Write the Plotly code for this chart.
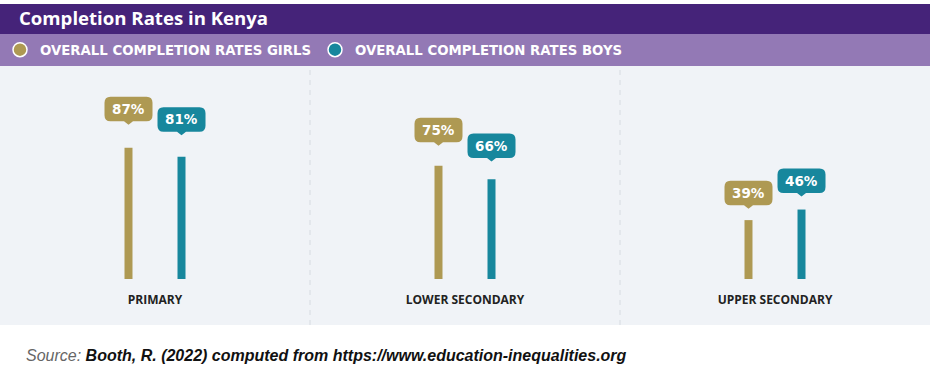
import plotly.graph_objects as go

# ---- data ----
categories = ["PRIMARY", "LOWER SECONDARY", "UPPER SECONDARY"]
girls = [87, 75, 39]
boys = [81, 66, 46]
series_names = ["OVERALL COMPLETION RATES GIRLS", "OVERALL COMPLETION RATES BOYS"]
title_text = "Completion Rates in Kenya"
source_label = "Source:"
source_text = "Booth, R. (2022) computed from https://www.education-inequalities.org"

# ---- style ----
W, H = 934, 375
PLOT_TOP, PLOT_BOT, PLOT_R = 66, 325, 930
GOLD = "#AE9953"
TEAL = "#17879D"
DARK_PURPLE = "#452379"
LIGHT_PURPLE = "#9379B5"
PANEL = "#F0F3F7"
FONT = "Open Sans"
WIDE = "DejaVu Sans"

plot_h = PLOT_BOT - PLOT_TOP
px_per_unit = 1.51
base_px = 279
y_min = -(PLOT_BOT - base_px) / px_per_unit
y_max = (base_px - PLOT_TOP) / px_per_unit
label_k = 1.159          # label bubbles sit on a slightly steeper scale
offset = 0.0855
bar_w = 0.0258


def py(p):
    return (PLOT_BOT - p) / plot_h


def pxp(p):
    return p / PLOT_R


fig = go.Figure()

xs_g = [i - offset for i in range(len(categories))]
xs_b = [i + offset for i in range(len(categories))]

fig.add_trace(go.Bar(x=xs_g, y=girls, width=bar_w, marker=dict(color=GOLD, line=dict(width=0)),
                     showlegend=False, hoverinfo="skip"))
fig.add_trace(go.Bar(x=xs_b, y=boys, width=bar_w, marker=dict(color=TEAL, line=dict(width=0)),
                     showlegend=False, hoverinfo="skip"))

# legend entries (circle markers)
for name, col in zip(series_names, [GOLD, TEAL]):
    fig.add_trace(go.Scatter(x=[None], y=[None], mode="markers", name=name,
                             marker=dict(symbol="circle", size=14, color=col,
                                         line=dict(color="white", width=1.5))))

shapes = []
annotations = []

# header bands
shapes.append(dict(type="rect", xref="paper", yref="paper", x0=0, x1=1, y0=py(34), y1=py(4),
                   fillcolor=DARK_PURPLE, line=dict(width=0), layer="below"))
shapes.append(dict(type="rect", xref="paper", yref="paper", x0=0, x1=1, y0=py(66), y1=py(34),
                   fillcolor=LIGHT_PURPLE, line=dict(width=0), layer="below"))

# separators
for i in range(len(categories) - 1):
    shapes.append(dict(type="line", xref="x", yref="paper", x0=i + 0.5, x1=i + 0.5, y0=0, y1=1,
                       line=dict(color="#D6DBE1", width=1, dash="5px,5px"), layer="below"))

# bubble path (pixels relative to anchor, y up)
bw, r = 24, 6
tip, bb, bt, pw = 2, 5.5, 30, 4.5
bubble = (f"M {-bw + r},{bb} L {-pw},{bb} L 0,{tip} L {pw},{bb} L {bw - r},{bb} "
          f"Q {bw},{bb} {bw},{bb + r} L {bw},{bt - r} Q {bw},{bt} {bw - r},{bt} "
          f"L {-bw + r},{bt} Q {-bw},{bt} {-bw},{bt - r} L {-bw},{bb + r} "
          f"Q {-bw},{bb} {-bw + r},{bb} Z")

for xs, vals, col in [(xs_g, girls, GOLD), (xs_b, boys, TEAL)]:
    for x, v in zip(xs, vals):
        shapes.append(dict(type="path", xref="x", yref="y", xsizemode="pixel", ysizemode="pixel",
                           xanchor=x, yanchor=v * label_k, path=bubble, fillcolor=col,
                           line=dict(width=0), layer="above"))
        annotations.append(dict(x=x, y=v * label_k, xref="x", yref="y", text=f"{v}%",
                                showarrow=False, yshift=(bb + bt) / 2, yanchor="middle",
                                font=dict(family=WIDE, size=13.5, color="white", weight=700)))

# title
annotations.append(dict(x=pxp(17), y=py(18), xref="paper", yref="paper", xanchor="left",
                        yanchor="middle", text=title_text, showarrow=False,
                        font=dict(family=FONT, size=18.6, color="white", weight=700)))

# source
annotations.append(dict(x=pxp(24), y=py(355), xref="paper", yref="paper", xanchor="left",
                        yanchor="middle", showarrow=False,
                        text=(f"<i><span style='color:#666666'>{source_label}</span></i> "
                              f"<b><i>{source_text}</i></b>"),
                        font=dict(family="Liberation Sans", size=16, color="#111111")))

fig.update_layout(
    width=W, height=H,
    margin=dict(l=0, r=W - PLOT_R, t=PLOT_TOP, b=H - PLOT_BOT),
    paper_bgcolor="white", plot_bgcolor=PANEL,
    barmode="overlay",
    shapes=shapes, annotations=annotations,
    showlegend=True,
    legend=dict(orientation="h", x=0, xanchor="left", y=py(50), yanchor="middle",
                bgcolor="rgba(0,0,0,0)", font=dict(family=WIDE, size=13.3, color="white", weight=700),
                entrywidth=270, entrywidthmode="pixels", itemclick=False, itemdoubleclick=False),
    xaxis=dict(range=[-0.5, len(categories) - 0.5], tickvals=list(range(len(categories))),
               ticktext=categories, showgrid=False, zeroline=False, showline=False, ticks="",
               anchor="free", position=py(291),
               tickfont=dict(family=FONT, size=12, color="#222222", weight=700)),
    yaxis=dict(range=[y_min, y_max], showgrid=False, zeroline=False, showticklabels=False,
               showline=False, ticks=""),
)

fig.write_html("out.html", config={"displayModeBar": False},
               post_script="document.body.style.margin='0';document.body.style.overflow='hidden';")
